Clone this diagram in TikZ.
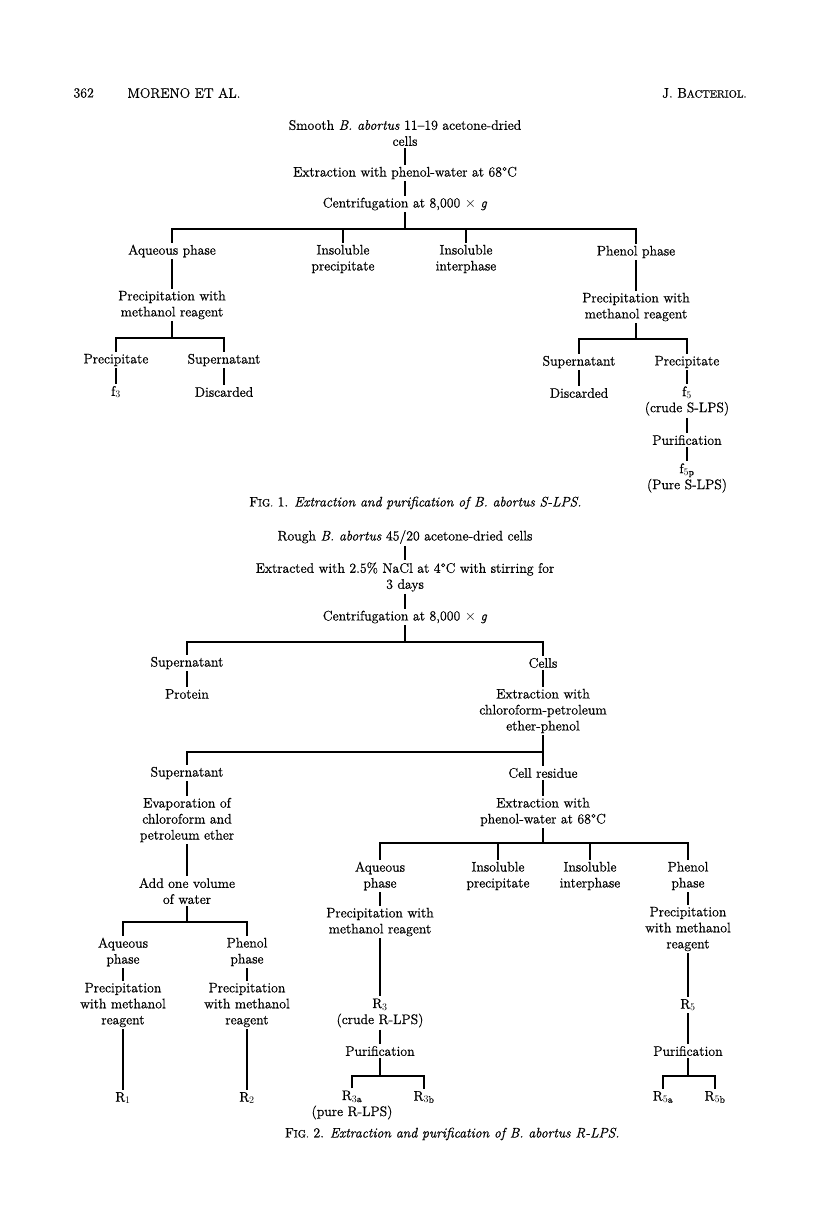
\documentclass[tikz,border=0pt]{standalone}
\usepackage{fontspec}
\setmainfont{Latin Modern Roman}[FakeBold=0.7]
\newcommand{\fakesc}[2]{#1{\fontsize{10.6}{12}\selectfont #2}}
\begin{document}
\begin{tikzpicture}[x=1pt, y=-1pt, font={\fontsize{13.8}{16}\selectfont},
    lbl/.style={align=center, inner sep=2pt},
    lnk/.style={line width=1.1pt}]
  \useasboundingbox (0,0) rectangle (816,1227);

  % --- Running head ---
  \node[anchor=west] (pg) at (70, 93) {362};
  \node[anchor=west] (au) at (124, 93) {MORENO ET AL.};
  \node[anchor=east] (jr) at (750, 93) {J. \fakesc{B}{ACTERIOL.}};

  % --- Fig. 1: smooth strain ---
  \node[lbl] (s0) at (405, 133) {Smooth \textit{B. abortus} 11--19 acetone-dried\\cells};
  \node[lbl] (s1) at (405, 173) {Extraction with phenol-water at 68\textdegree C};
  \node[lbl] (s2) at (405, 204) {Centrifugation at 8,000 $\times$ \textit{g}};
  \coordinate (b1) at (405, 229);

  \node[lbl] (s3) at (172, 251) {Aqueous phase};
  \node[lbl] (s4) at (343, 259) {Insoluble\\precipitate};
  \node[lbl] (s5) at (466, 259) {Insoluble\\interphase};
  \node[lbl] (s6) at (636, 252) {Phenol phase};

  \node[lbl] (s7) at (172, 305) {Precipitation with\\methanol reagent};
  \coordinate (b2) at (172, 338);
  \node[lbl] (s8) at (116, 360) {Precipitate};
  \node[lbl] (s9) at (224, 360) {Supernatant};
  \node[lbl] (s10) at (116, 392) {f$_3$};
  \node[lbl] (s11) at (224, 392) {Discarded};

  \node[lbl] (s12) at (636, 307) {Precipitation with\\methanol reagent};
  \coordinate (b3) at (636, 339);
  \node[lbl] (s13) at (579, 362) {Supernatant};
  \node[lbl] (s14) at (687, 362) {Precipitate};
  \node[lbl] (s15) at (579, 393) {Discarded};
  \node[lbl] (s16) at (687, 401) {f$_5$\\(crude S-LPS)};
  \node[lbl] (s17) at (687, 440) {Purification};
  \node[lbl] (s18) at (687, 478) {f$_{5\mathrm{p}}$\\(Pure S-LPS)};

  \draw[lnk] (s0.south) -- (s1.north);
  \draw[lnk] (s1.south) -- (s2.north);
  \draw[lnk] (s2.south) -- (b1);
  \draw[lnk] (s3.north) |- (s6.north |- b1) -- (s6.north);
  \draw[lnk] (s4.north) -- (s4.north |- b1);
  \draw[lnk] (s5.north) -- (s5.north |- b1);
  \draw[lnk] (s3.south) -- (s7.north);
  \draw[lnk] (s7.south) -- (b2);
  \draw[lnk] (s8.north) |- (s9.north |- b2) -- (s9.north);
  \draw[lnk] (s8.south) -- (s10.north);
  \draw[lnk] (s9.south) -- (s11.north);
  \draw[lnk] (s6.south) -- (s12.north);
  \draw[lnk] (s12.south) -- (b3);
  \draw[lnk] (s13.north) |- (s14.north |- b3) -- (s14.north);
  \draw[lnk] (s13.south) -- (s15.north);
  \draw[lnk] (s14.south) -- (s16.north);
  \draw[lnk] (s16.south) -- (s17.north);
  \draw[lnk] (s17.south) -- (s18.north);

  \node[anchor=east] (cap1) at (585, 503)
    {\fakesc{F}{IG.} 1. \textit{Extraction and purification of B. abortus S-LPS.}};

  % --- Fig. 2: rough strain ---
  \node[lbl] (r0) at (405, 537) {Rough \textit{B. abortus} 45/20 acetone-dried cells};
  \node[lbl] (r1) at (405, 577) {Extracted with 2.5\% NaCl at 4\textdegree C with stirring for\\3 days};
  \node[lbl] (r2) at (405, 617) {Centrifugation at 8,000 $\times$ \textit{g}};
  \coordinate (b4) at (405, 642);
  \node[lbl] (r3) at (187, 663) {Supernatant};
  \node[lbl] (r4) at (543, 663) {Cells};
  \node[lbl] (r5) at (187, 694) {Protein};
  \node[lbl] (r6) at (543, 711) {Extraction with\\chloroform-petroleum\\ether-phenol};
  \coordinate (b5) at (543, 752);
  \node[lbl] (r7) at (187, 773) {Supernatant};
  \node[lbl] (r8) at (543, 773) {Cell residue};

  % left branch
  \node[lbl] (r9) at (187, 820) {Evaporation of\\chloroform and\\petroleum ether};
  \node[lbl] (r11) at (187, 891) {Add one volume\\of water};
  \coordinate (b7) at (187, 922);
  \node[lbl] (r12) at (123, 952) {Aqueous\\phase};
  \node[lbl] (r13) at (247, 952) {Phenol\\phase};
  \node[lbl] (r14) at (123, 1005) {Precipitation\\with methanol\\reagent};
  \node[lbl] (r15) at (247, 1005) {Precipitation\\with methanol\\reagent};
  \node[lbl] (r16) at (123, 1098) {R$_1$};
  \node[lbl] (r17) at (247, 1098) {R$_2$};

  % right branch
  \node[lbl] (r10) at (543, 812) {Extraction with\\phenol-water at 68\textdegree C};
  \coordinate (b6) at (543, 843);
  \node[lbl] (r18) at (380, 876) {Aqueous\\phase};
  \node[lbl] (r19) at (498, 876) {Insoluble\\precipitate};
  \node[lbl] (r20) at (590, 876) {Insoluble\\interphase};
  \node[lbl] (r21) at (688, 876) {Phenol\\phase};
  \node[lbl] (r22) at (380, 922) {Precipitation with\\methanol reagent};
  \node[lbl] (r23) at (380, 1013) {R$_3$\\(crude R-LPS)};
  \node[lbl] (r24) at (380, 1051) {Purification};
  \coordinate (b8) at (380, 1076);
  \node[lbl] (r25) at (352, 1105) {R$_{3\mathrm{a}}$\\(pure R-LPS)};
  \node[lbl] (r26) at (424, 1097) {R$_{3\mathrm{b}}$};
  \node[lbl] (r27) at (688, 929) {Precipitation\\with methanol\\reagent};
  \node[lbl] (r28) at (688, 1005) {R$_5$};
  \node[lbl] (r29) at (688, 1051) {Purification};
  \coordinate (b9) at (688, 1076);
  \node[lbl] (r30) at (663, 1097) {R$_{5\mathrm{a}}$};
  \node[lbl] (r31) at (715, 1097) {R$_{5\mathrm{b}}$};

  \draw[lnk] (r0.south) -- (r1.north);
  \draw[lnk] (r1.south) -- (r2.north);
  \draw[lnk] (r2.south) -- (b4);
  \draw[lnk] (r3.north) |- (r4.north |- b4) -- (r4.north);
  \draw[lnk] (r3.south) -- (r5.north);
  \draw[lnk] (r4.south) -- (r6.north);
  \draw[lnk] (r6.south) -- (r8.north);
  \draw[lnk] (r7.north) |- (b5);
  \draw[lnk] (r7.south) -- (r9.north);
  \draw[lnk] (r9.south) -- (r11.north);
  \draw[lnk] (r11.south) -- (b7);
  \draw[lnk] (r12.north) |- (r13.north |- b7) -- (r13.north);
  \draw[lnk] (r12.south) -- (r14.north);
  \draw[lnk] (r13.south) -- (r15.north);
  \draw[lnk] (r14.south) -- (r16.north);
  \draw[lnk] (r15.south) -- (r17.north);
  \draw[lnk] (r8.south) -- (r10.north);
  \draw[lnk] (r10.south) -- (b6);
  \draw[lnk] (r18.north) |- (r21.north |- b6) -- (r21.north);
  \draw[lnk] (r19.north) -- (r19.north |- b6);
  \draw[lnk] (r20.north) -- (r20.north |- b6);
  \draw[lnk] (r18.south) -- (r22.north);
  \draw[lnk] (r22.south) -- (r23.north);
  \draw[lnk] (r23.south) -- (r24.north);
  \draw[lnk] (r24.south) -- (b8);
  \draw[lnk] (r25.north) |- (r26.north |- b8) -- (r26.north);
  \draw[lnk] (r21.south) -- (r27.north);
  \draw[lnk] (r27.south) -- (r28.north);
  \draw[lnk] (r28.south) -- (r29.north);
  \draw[lnk] (r29.south) -- (b9);
  \draw[lnk] (r30.north) |- (r31.north |- b9) -- (r31.north);

  \node[anchor=east] (cap2) at (623, 1134)
    {\fakesc{F}{IG.} 2. \textit{Extraction and purification of B. abortus R-LPS.}};
\end{tikzpicture}
\end{document}
